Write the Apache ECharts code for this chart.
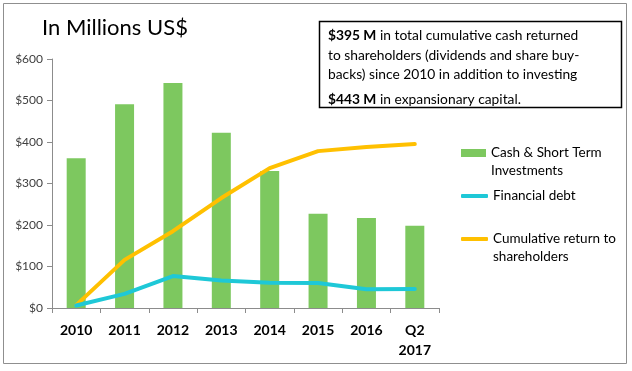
<!DOCTYPE html>
<html>
<head>
<meta charset="utf-8">
<script src="https://cdn.jsdelivr.net/npm/echarts@6/dist/echarts.min.js"></script>
<style>
html,body{margin:0;padding:0;background:#fff;}
#c{width:632px;height:371px;}
</style>
</head>
<body>
<div id="c"></div>
<script>
var categories = ['2010','2011','2012','2013','2014','2015','2016','Q2\n2017'];
var cashValues = [361, 491, 542, 422, 330, 227, 217, 198];
var debtValues = [6, 34, 77, 66, 61, 60, 45, 46];
var returnValues = [7, 116, 185, 265, 337, 378, 388, 395];
var yTicks = {min: 0, max: 600, interval: 100};
var seriesNames = ['Cash & Short Term\nInvestments', 'Financial debt', 'Cumulative return to\nshareholders'];

var FONT = 'Lato, "Open Sans", sans-serif';
var chart = echarts.init(document.getElementById('c'), null, {renderer: 'canvas'});

function legendAt(name, top, icon, w, h, twoLine) {
  return {
    data: [{name: name, icon: icon}],
    left: 461, top: top,
    itemWidth: w, itemHeight: h,
    itemGap: 0,
    padding: 0,
    selectedMode: false,
    formatter: function (n) { return twoLine ? '\n' + n : n; },
    textStyle: {
      fontFamily: FONT, fontSize: 13.5, color: '#000',
      lineHeight: 18
    }
  };
}

chart.setOption({
  animation: false,
  backgroundColor: '#fff',
  grid: {left: 52, right: 193, top: 59, bottom: 63, containLabel: false},
  legend: [
    legendAt(seriesNames[0], 126, 'rect', 25, 8, true),
    legendAt(seriesNames[1], 187, 'roundRect', 27, 4, false),
    legendAt(seriesNames[2], 212, 'roundRect', 27, 4, true)
  ],
  xAxis: {
    type: 'category',
    data: categories,
    boundaryGap: true,
    axisLine: {lineStyle: {color: '#8c8c8c', width: 1}},
    axisTick: {show: true, length: 5, alignWithLabel: false, lineStyle: {color: '#8c8c8c'}},
    axisLabel: {
      fontFamily: FONT, fontWeight: 'bold', fontSize: 14, color: '#000',
      margin: 12, lineHeight: 20, interval: 0
    }
  },
  yAxis: {
    type: 'value',
    min: yTicks.min, max: yTicks.max, interval: yTicks.interval,
    splitLine: {show: false},
    axisLine: {show: true, lineStyle: {color: '#8c8c8c', width: 1}},
    axisTick: {show: true, length: 5, lineStyle: {color: '#8c8c8c'}},
    axisLabel: {
      fontFamily: FONT, fontSize: 12, color: '#404040', margin: 9,
      formatter: function (v) { return '$' + v; }
    }
  },
  series: [
    {
      name: seriesNames[0], type: 'bar', data: cashValues,
      barWidth: 19,
      itemStyle: {color: '#7DC85F'}
    },
    {
      name: seriesNames[2], type: 'line', data: returnValues,
      showSymbol: false, symbol: 'none',
      lineStyle: {color: '#FFC000', width: 4, cap: 'round', join: 'round'},
      itemStyle: {color: '#FFC000'},
      z: 3
    },
    {
      name: seriesNames[1], type: 'line', data: debtValues,
      showSymbol: false, symbol: 'none',
      lineStyle: {color: '#1EC8D7', width: 4, cap: 'round', join: 'round'},
      itemStyle: {color: '#1EC8D7'},
      z: 4
    }
  ],
  graphic: [
    {
      type: 'rect', silent: true, z: -1,
      shape: {x: 3.5, y: 3.5, width: 623, height: 360},
      style: {fill: 'none', stroke: '#8f8f8f', lineWidth: 1}
    },
    {
      type: 'text', left: 42, top: 17,
      style: {text: 'In Millions US$', font: '22px ' + FONT, fill: '#000'}
    },
    {
      type: 'rect', silent: true,
      shape: {x: 319.5, y: 21.5, width: 302, height: 86},
      style: {fill: '#fff', stroke: '#000', lineWidth: 1.5}
    },
    {
      type: 'text', left: 328, top: 29,
      style: {
        text: '{b|$395 M} in total cumulative cash returned',
        font: '13.8px ' + FONT, fill: '#000',
        rich: {b: {fontWeight: 'bold', fontFamily: FONT, fontSize: 13.8, fill: '#000'}}
      }
    },
    {
      type: 'text', left: 328, top: 49,
      style: {text: 'to shareholders (dividends and share buy-', font: '13.8px ' + FONT, fill: '#000'}
    },
    {
      type: 'text', left: 328, top: 68,
      style: {text: 'backs) since 2010 in addition to investing', font: '13.8px ' + FONT, fill: '#000'}
    },
    {
      type: 'text', left: 328, top: 93,
      style: {
        text: '{b|$443 M} in expansionary capital.',
        font: '13.8px ' + FONT, fill: '#000',
        rich: {b: {fontWeight: 'bold', fontFamily: FONT, fontSize: 13.8, fill: '#000'}}
      }
    }
  ]
});
</script>
</body>
</html>
